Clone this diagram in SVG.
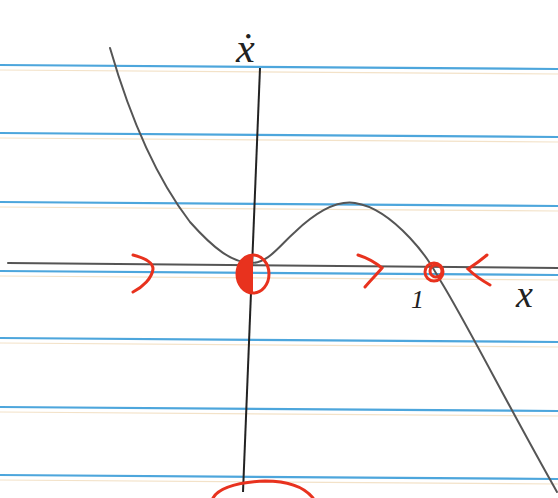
<svg xmlns="http://www.w3.org/2000/svg" width="558" height="498" viewBox="0 0 558 498">
<style>
.rule{stroke:#4da6dc;stroke-width:2.2;fill:none}
.rule2{stroke:#f3e2c8;stroke-width:1.2;fill:none}
.ink{stroke:#555;stroke-width:2;fill:none;stroke-linecap:round}
.axis{stroke:#222;stroke-width:2;fill:none}
.red{stroke:#e8321e;stroke-width:3;fill:none;stroke-linecap:round}
.lbl{font-family:"Liberation Serif",serif;font-style:italic;fill:#222}
</style>
<rect width="558" height="498" fill="#fff"/>
<g id="paper">
<path class="rule2" d="M0,70 L558,74 M0,138 L558,142 M0,207 L558,211 M0,276 L558,280 M0,343 L558,347 M0,412 L558,416 M0,480 L558,484"/>
<path class="rule" d="M0,65 L558,69 M0,133 L558,137 M0,202 L558,206 M0,271 L558,275 M0,338 L558,342 M0,407 L558,411 M0,475 L558,479"/>
</g>
<g id="axes">
<path class="ink" d="M8,263 L558,268"/>
<path class="axis" d="M260,68 L243,492"/>
</g>
<g id="curve">
<path class="ink" d="M110,48 C125,100 150,170 190,222 C215,250 232,262 250,263 C268,264 280,245 295,232 C315,213 335,200 355,203 C375,206 395,222 410,238 C425,254 432,266 440,280 C465,320 505,400 557,492"/>
</g>
<g id="marks">
<path class="red" d="M133,255 C145,258 153,263 153,269 C152,278 143,287 133,292"/>
<ellipse class="red" cx="253" cy="274" rx="16" ry="19"/>
<path d="M253,255 C243,257 237,265 237,274 C237,284 243,292 253,293 Z" fill="#e8321e"/>
<path class="red" d="M358,255 C368,258 376,263 382,268 C377,274 370,281 365,287"/>
<circle class="red" cx="434" cy="272" r="9" stroke-width="3.5"/>
<circle class="red" cx="436" cy="271" r="6" stroke-width="2"/>
<path class="red" d="M487,255 C481,260 474,265 468,269 C474,275 483,281 490,285"/>
<path class="red" d="M213,498 C220,486 245,482 265,481 C290,481 305,488 313,498"/>
</g>
<g id="labels">
<text class="lbl" x="236" y="62" font-size="42">ẋ</text>
<text class="lbl" x="516" y="307" font-size="38">x</text>
<text class="lbl" x="411" y="308" font-size="26">1</text>
</g>
</svg>
